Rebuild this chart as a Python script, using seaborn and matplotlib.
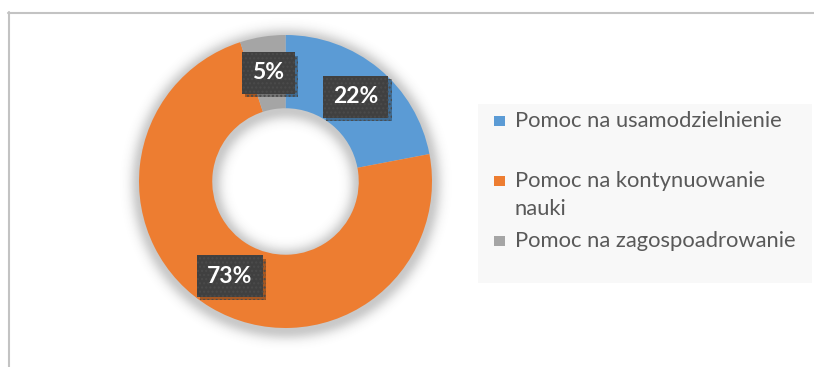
import textwrap
import numpy as np
import matplotlib
matplotlib.use("Agg")
import matplotlib.pyplot as plt
import matplotlib.patheffects as pe
from matplotlib.patches import Rectangle
from matplotlib.lines import Line2D
import seaborn as sns

# Shares of support types
categories = ["Pomoc na usamodzielnienie",
              "Pomoc na kontynuowanie nauki",
              "Pomoc na zagospoadrowanie"]
values = [22, 73, 5]
colors = ["#5B9BD5", "#ED7D31", "#A5A5A5"]

sns.set_theme(style="white")
plt.rcParams["font.family"] = ["Lato", "DejaVu Sans"]
plt.rcParams["hatch.linewidth"] = 1.0

W, H = 814, 367
fig = plt.figure(figsize=(W / 100, H / 100), dpi=100)
fig.patch.set_facecolor("white")

def fx(px):
    return px / W

def fy(py):
    return 1 - py / H

# Chart frame (top and left edges visible)
fig.add_artist(Line2D([fx(8), fx(814)], [fy(12.5), fy(12.5)], color="#c3c3c3", lw=1.5))
fig.add_artist(Line2D([fx(8.5), fx(8.5)], [fy(12), fy(367)], color="#c3c3c3", lw=1.5))

# Donut axes: centre (285.5, 181.5) px, outer radius 146.5 px
cx, cy, R = 285.5, 181.5, 146.5
ext = 1.2
ax = fig.add_axes([fx(cx - R * ext), fy(cy + R * ext), 2 * R * ext / W, 2 * R * ext / H])
ax.axis("off")

# Soft shadow around the ring and inside the hole
g = np.linspace(-ext, ext, 500)
X, Y = np.meshgrid(g, g)
r = np.hypot(X, Y + 0.02)
d = np.where(r > 1, r - 1, np.where(r < 0.5, 0.5 - r, 0))
alpha = 0.28 * np.exp(-(d / 0.065) ** 2)
shadow = np.zeros((500, 500, 4))
shadow[..., :3] = 0.25
shadow[..., 3] = alpha
ax.imshow(shadow, extent=(-ext, ext, -ext, ext), origin="lower", zorder=0,
          interpolation="bilinear")

wedges, _, autotexts = ax.pie(
    values, colors=colors, startangle=90, counterclock=False,
    radius=1, wedgeprops=dict(width=0.5, linewidth=0),
    autopct=lambda p: f"{p:.0f}%", pctdistance=0.75,
    textprops=dict(color="white", fontsize=16.5, fontweight="bold"),
)
for w in wedges:
    w.set_zorder(2)
ax.set_xlim(-ext, ext)
ax.set_ylim(-ext, ext)

for t in autotexts:
    t.set_zorder(5)
    t.set_bbox(dict(boxstyle="square,pad=0.45", facecolor="#404040",
                    edgecolor="#4b4b4b", linewidth=0, hatch="...."))
    t.get_bbox_patch().set_path_effects([
        pe.SimplePatchShadow(offset=(2.5, -2.5), shadow_rgbFace="black", alpha=0.3),
        pe.Normal(),
    ])

# Legend panel
fig.add_artist(Rectangle((fx(478), fy(283)), fx(812) - fx(478), fy(104) - fy(283),
                         facecolor="#f8f8f8", edgecolor="none"))
row_baselines = [126.7, 186.7, 246.7]
line_step = 28.3
for label, col, yb in zip(categories, colors, row_baselines):
    lines = textwrap.wrap(label, width=26)
    fig.add_artist(Rectangle((fx(494), fy(yb - 0.5)), 10.5 / W, 10.5 / H,
                             facecolor=col, edgecolor="none"))
    for i, ln in enumerate(lines):
        fig.text(fx(515), fy(yb + i * line_step), ln, fontsize=15.8,
                 color="#595959", va="baseline", ha="left")

fig.savefig("out.png", dpi=100)
